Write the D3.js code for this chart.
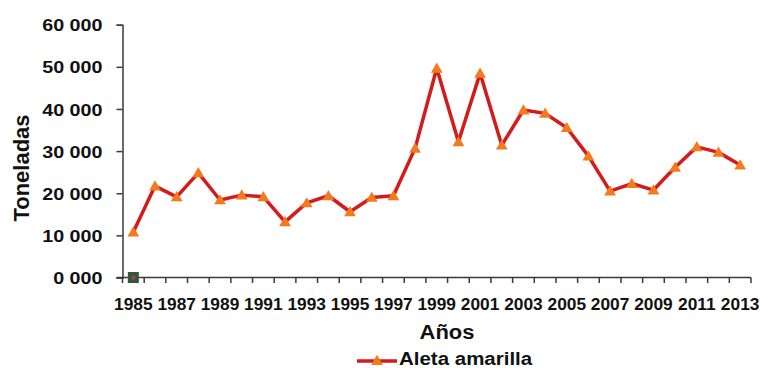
<!DOCTYPE html>
<html lang="es">
<head>
  <meta charset="UTF-8">
  <title>Aleta amarilla</title>
  <script src='https://d3js.org/d3.v7.min.js'></script>
  <style>
    body { margin: 0; background: #fff; }
    text { font-family: 'Liberation Sans', Arial, sans-serif; font-weight: bold; fill: #111; }
  </style>
</head>
<body>
</body>
<script>
  const width = 760, height = 368;

  // data
  const years = d3.range(1985, 2014);
  const aletaAmarilla = [10800, 21700, 19150, 24850, 18400, 19550, 19150, 13200, 17700, 19400,
                         15600, 19000, 19400, 30650, 49650, 32200, 48450, 31400, 39750, 38950,
                         35550, 28800, 20500, 22300, 20750, 26150, 31000, 29700, 26700];
  const otraSerie = [{year: 1985, value: 0}];
  const yTicks = [0, 10000, 20000, 30000, 40000, 50000, 60000];
  const xLabels = years.filter(y => y % 2 === 1);

  const svg = d3.select('body').append('svg').attr('width', width).attr('height', height);

  const x = d3.scaleBand().domain(years).range([122.5, 751]);
  const y = d3.scaleLinear().domain([0, 60000]).range([277.5, 24.7]);

  // stretch text horizontally a little, like the original image
  function stretch(sel, k) {
    sel.each(function() {
      const w = this.getComputedTextLength();
      this.setAttribute('textLength', w * k);
      this.setAttribute('lengthAdjust', 'spacingAndGlyphs');
    });
  }

  const axisColor = '#3a3a3a';

  // y axis
  const gy = svg.append('g').attr('transform', 'translate(122.5,0)')
    .call(d3.axisLeft(y).tickValues(yTicks).tickSize(6).tickPadding(14)
      .tickFormat(d => Math.floor(d / 1000) + ' 000'));
  gy.select('.domain').attr('stroke', axisColor).attr('stroke-width', 1.5);
  gy.selectAll('.tick line').attr('stroke', axisColor).attr('stroke-width', 1.5);
  gy.selectAll('.tick text').attr('font-size', 17).attr('font-family', null).attr('fill', '#111').attr('dy', '0.36em');
  stretch(gy.selectAll('.tick text'), 1.16);

  // x axis line + ticks at band edges
  svg.append('line')
    .attr('x1', 116.5).attr('x2', x.range()[1])
    .attr('y1', y(0)).attr('y2', y(0))
    .attr('stroke', axisColor).attr('stroke-width', 1.5);
  svg.append('g').selectAll('line')
    .data(years.concat([2014]))
    .join('line')
    .attr('x1', d => d === 2014 ? x.range()[1] : x(d))
    .attr('x2', d => d === 2014 ? x.range()[1] : x(d))
    .attr('y1', y(0)).attr('y2', y(0) + 5.5)
    .attr('stroke', axisColor).attr('stroke-width', 1.5);

  const xl = svg.append('g').selectAll('text')
    .data(xLabels)
    .join('text')
    .attr('x', d => x(d) + x.bandwidth() / 2)
    .attr('y', 310)
    .attr('text-anchor', 'middle')
    .attr('font-size', 16.5)
    .text(d => d);
  stretch(xl, 1.05);

  // axis titles
  svg.append('text')
    .attr('transform', 'translate(29,168) rotate(-90)')
    .attr('text-anchor', 'middle')
    .attr('font-size', 22)
    .text('Toneladas');

  const xt = svg.append('text')
    .attr('x', 447).attr('y', 339)
    .attr('text-anchor', 'middle')
    .attr('font-size', 20)
    .text('Años');
  stretch(xt, 1.1);

  // series
  const cx = d => x(d) + x.bandwidth() / 2;
  const pts = years.map((yr, i) => ({year: yr, value: aletaAmarilla[i]}));
  const lineColor = '#d41a1a', markColor = '#f47a1e';

  svg.append('path')
    .datum(pts)
    .attr('fill', 'none')
    .attr('stroke', lineColor)
    .attr('stroke-width', 3.5)
    .attr('stroke-linejoin', 'round')
    .attr('d', d3.line().x(d => cx(d.year)).y(d => y(d.value)));

  const tri = d3.symbol().type(d3.symbolTriangle).size(60);
  svg.append('g').selectAll('path')
    .data(pts)
    .join('path')
    .attr('transform', d => `translate(${cx(d.year)},${y(d.value) + 1})`)
    .attr('fill', markColor)
    .attr('d', tri);

  // the lone square marker at 1985
  svg.append('g').selectAll('rect')
    .data(otraSerie)
    .join('rect')
    .attr('x', d => cx(d.year) - 5.5).attr('y', d => y(d.value) - 5.5)
    .attr('width', 11).attr('height', 11)
    .attr('fill', '#2f5a35');
  svg.append('g').selectAll('circle')
    .data(otraSerie)
    .join('circle')
    .attr('cx', d => cx(d.year)).attr('cy', d => y(d.value))
    .attr('r', 2)
    .attr('fill', '#b23a5c');

  // legend
  const lg = svg.append('g');
  lg.append('line').attr('x1', 357).attr('x2', 397).attr('y1', 361).attr('y2', 361)
    .attr('stroke', lineColor).attr('stroke-width', 3.5);
  lg.append('path').attr('transform', 'translate(377,361.5)').attr('fill', markColor).attr('d', tri);
  const lt = lg.append('text').attr('x', 399).attr('y', 365).attr('font-size', 17.5).text('Aleta amarilla');
  stretch(lt, 1.17);
</script>
</html>
